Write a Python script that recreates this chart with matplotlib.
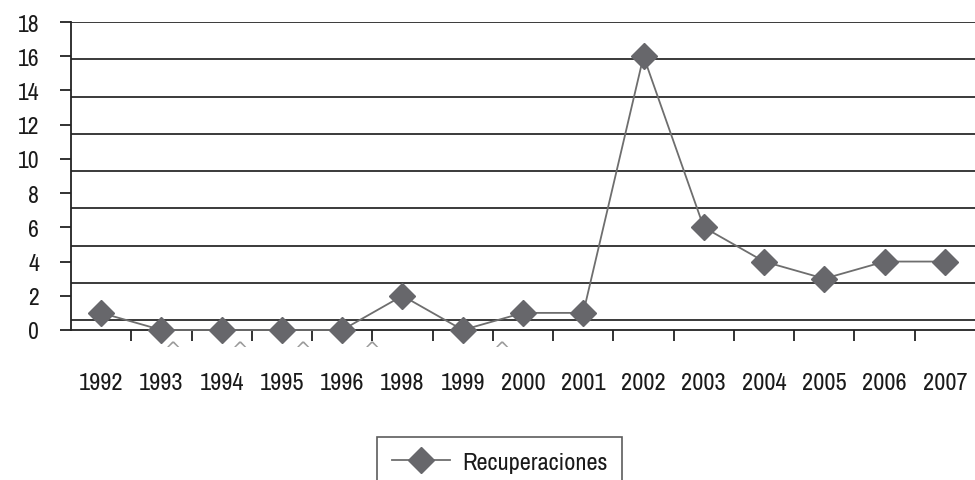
import numpy as np
import matplotlib.pyplot as plt

years = ['1992', '1993', '1994', '1995', '1996', '1998', '1999', '2000',
         '2001', '2002', '2003', '2004', '2005', '2006', '2007']
recuperaciones = [1, 0, 0, 0, 0, 2, 0, 1, 1, 16, 6, 4, 3, 4, 4]

# stray caret marks below the axis in the original
caret_x = [1.19, 2.30, 3.35, 4.49, 6.65]

plt.rcParams['font.family'] = ['Archivo Narrow', 'Roboto Condensed', 'Liberation Sans', 'DejaVu Sans']

fig = plt.figure(figsize=(9.75, 4.81), dpi=100)
ax = fig.add_axes([71 / 975, 1 - 331 / 481, 904 / 975, 308 / 481])

x = np.arange(len(years))
ax.set_xlim(-0.5, len(years) - 0.5)
ax.set_ylim(0, 18)

# the gridlines in the original are evenly spaced but not on the ticks
for g in np.linspace(18, 0.58, 9):
    ax.axhline(g, color='#2b2b2b', lw=1.3, zorder=1)

ax.plot(x, recuperaciones, color='#6e6e6e', lw=1.3, marker='D', ms=13,
        mfc='#67676b', mec='#67676b', clip_on=False, zorder=3,
        label='Recuperaciones')

for s in ['top', 'right']:
    ax.spines[s].set_visible(False)
ax.spines['left'].set_color('#222222')
ax.spines['bottom'].set_color('#222222')
ax.spines['left'].set_linewidth(1.3)
ax.spines['bottom'].set_linewidth(1.3)

ax.set_yticks(np.arange(0, 19, 2))
ax.tick_params(axis='y', direction='out', length=8, width=1.3, color='#222222',
               labelsize=17, pad=15, labelcolor='#1a1a1a')
ax.set_xticks(x)
ax.set_xticklabels(years)
ax.set_xticks(np.arange(0.5, len(years) - 0.5, 1), minor=True)
ax.tick_params(axis='x', which='major', length=0, labelsize=17.5, pad=30,
               labelcolor='#1a1a1a')
ax.tick_params(axis='x', which='minor', direction='out', length=8, width=1.3,
               color='#222222')

for cx in caret_x:
    ax.text(cx, -1.15, '^', ha='center', va='center', fontsize=14,
            color='#9a9a9a', family='DejaVu Sans')

leg = fig.legend(loc='upper left', bbox_to_anchor=(377 / 975, 1 - 438 / 481),
                 fontsize=17.5, frameon=True, fancybox=False, handlelength=2.4,
                 handletextpad=0.5, borderpad=0.6, borderaxespad=0,
                 labelcolor='#1a1a1a')
leg.get_frame().set_edgecolor('#333333')
leg.get_frame().set_linewidth(1.2)

fig.savefig('out.png', dpi=100)
